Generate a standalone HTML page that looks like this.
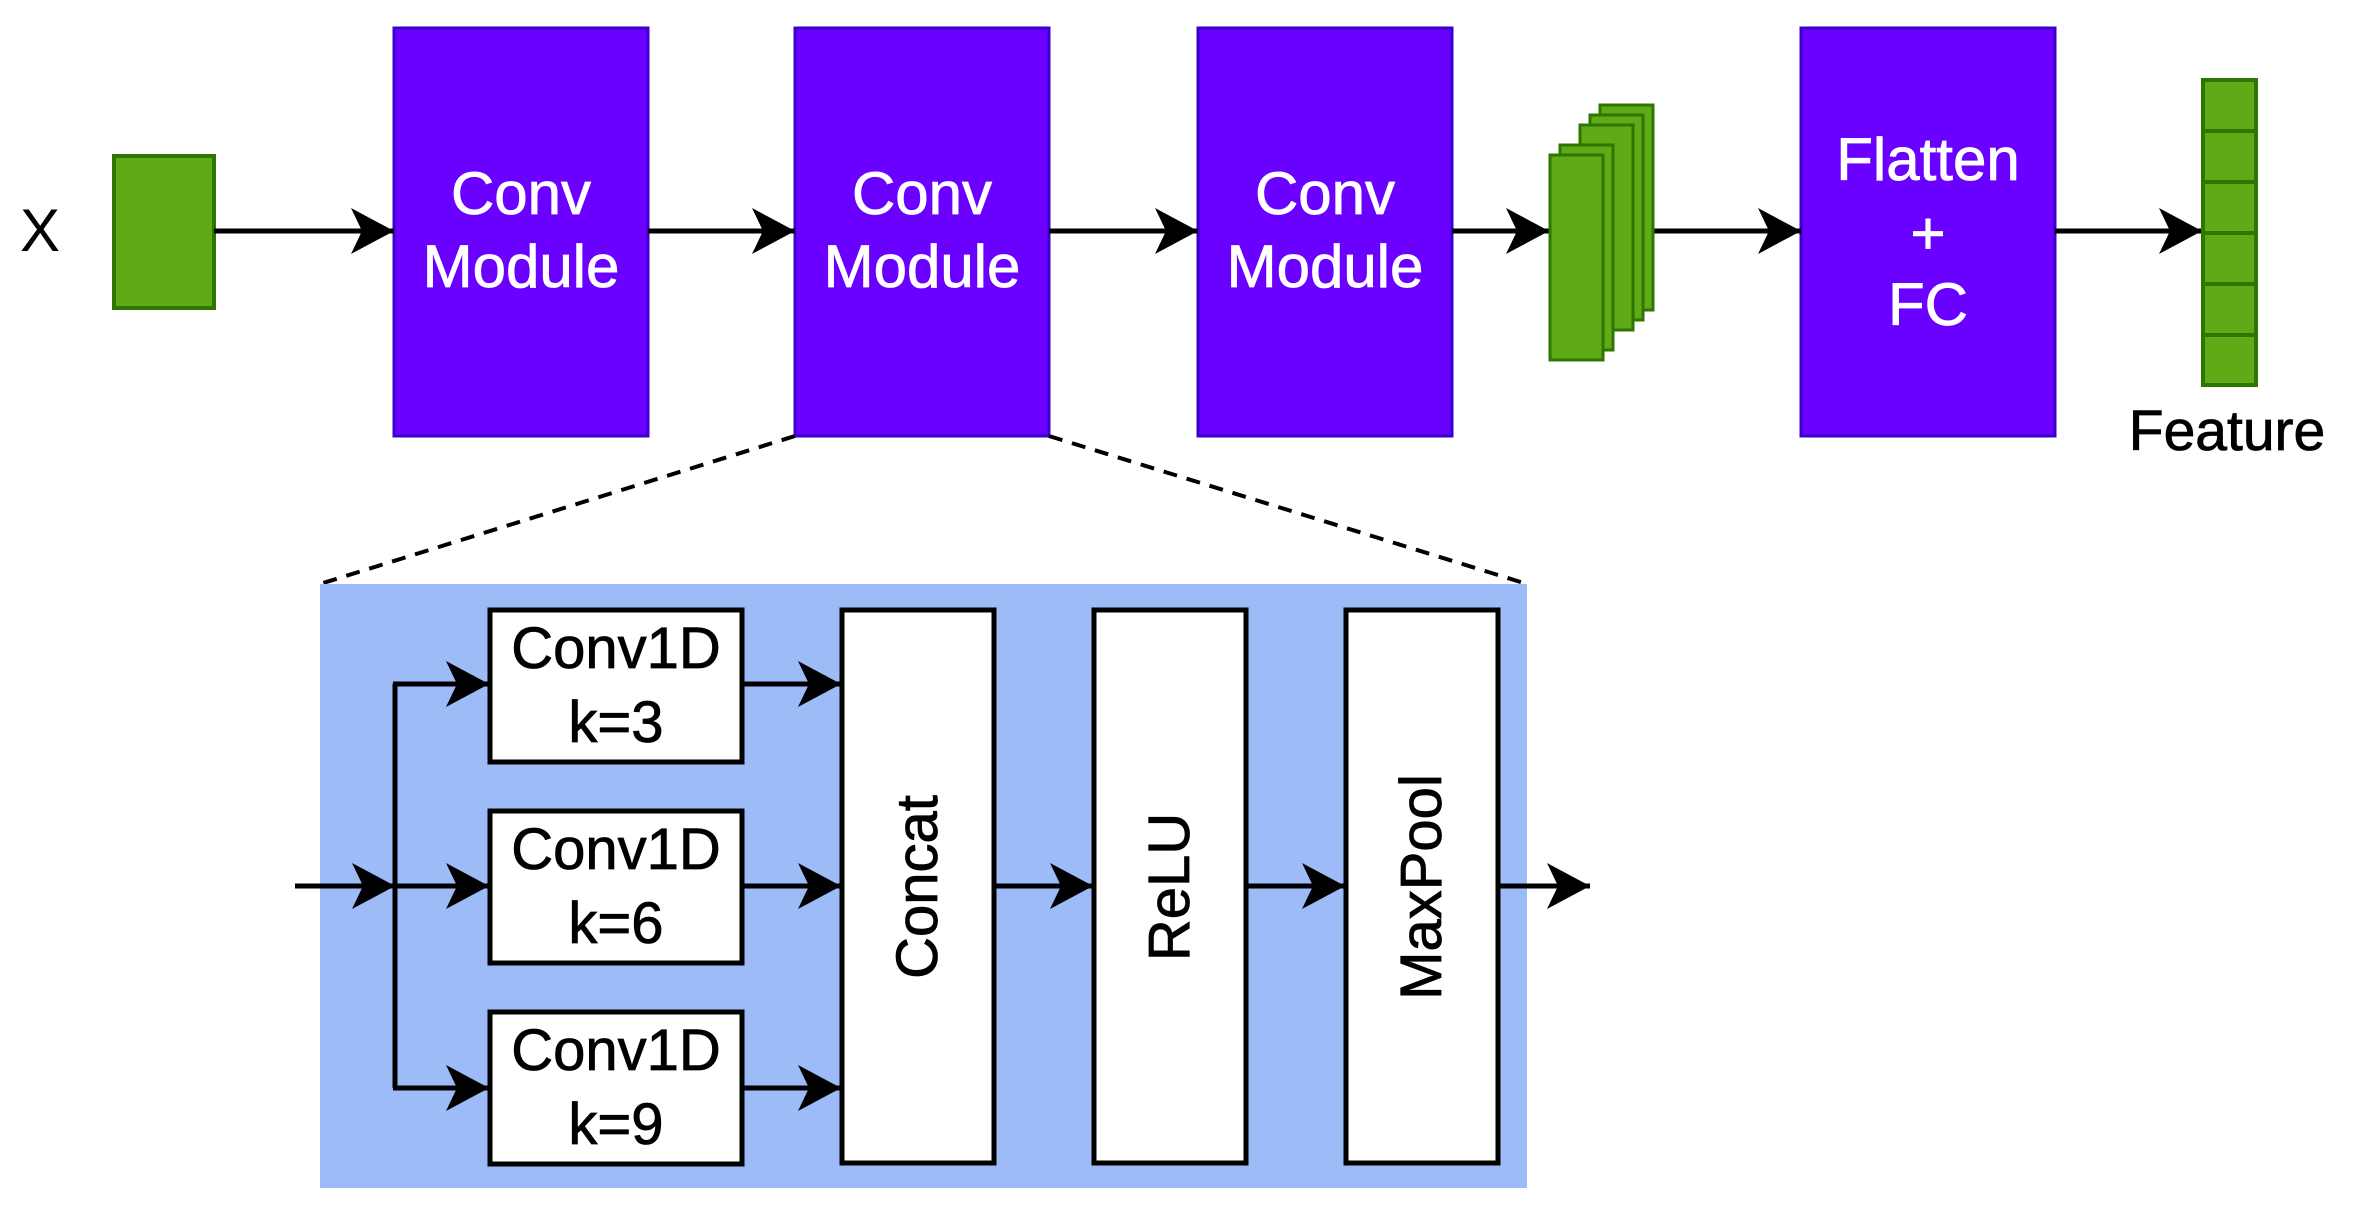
<!DOCTYPE html>
<html><head><meta charset="utf-8"><style>
html,body{margin:0;padding:0;background:#fff;}
svg{display:block;}
text{font-family:"Liberation Sans",Arial,sans-serif;}
</style></head><body>
<svg width="2357" height="1217" viewBox="0 0 2357 1217" xmlns="http://www.w3.org/2000/svg">
<defs>
<marker id="a" markerUnits="userSpaceOnUse" markerWidth="50" markerHeight="50" refX="43" refY="23" orient="auto">
<path d="M0,0 L43,23 L0,46 L11,23 Z" fill="#000"/>
</marker>
</defs>
<text x="40" y="251" font-size="60" text-anchor="middle" fill="#000">X</text>
<rect x="114" y="156" width="100" height="152" fill="#60a917" stroke="#2D7600" stroke-width="4"/>
<g fill="#6a00ff" stroke="#3a00cc" stroke-width="3">
<rect x="394" y="28" width="254" height="408"/>
<rect x="795" y="28" width="254" height="408"/>
<rect x="1198" y="28" width="254" height="408"/>
<rect x="1801" y="28" width="254" height="408"/>
</g>
<g fill="#fff" font-size="60" text-anchor="middle" stroke="#fff" stroke-width="0.8">
<text x="521" y="214">Conv</text><text x="521" y="287">Module</text>
<text x="922" y="214">Conv</text><text x="922" y="287">Module</text>
<text x="1325" y="214">Conv</text><text x="1325" y="287">Module</text>
<text x="1928" y="180">Flatten</text><text x="1928" y="254">+</text><text x="1928" y="325">FC</text>
</g>
<g stroke="#000" stroke-width="5" fill="none" marker-end="url(#a)">
<line x1="214" y1="231" x2="394" y2="231"/>
<line x1="648" y1="231" x2="795" y2="231"/>
<line x1="1049" y1="231" x2="1198" y2="231"/>
<line x1="1452" y1="231" x2="1549" y2="231"/>
<line x1="1653" y1="231" x2="1801" y2="231"/>
<line x1="2055" y1="231" x2="2202" y2="231"/>
</g>
<g fill="#60a917" stroke="#2D7600" stroke-width="3">
<rect x="1600" y="105" width="53" height="205"/>
<rect x="1590" y="115" width="53" height="205"/>
<rect x="1580" y="125" width="53" height="205"/>
<rect x="1560" y="145" width="53" height="205"/>
<rect x="1550" y="155" width="53" height="205"/>
</g>
<g fill="#60a917" stroke="#2D7600" stroke-width="4">
<rect x="2203" y="80" width="53" height="51"/>
<rect x="2203" y="131" width="53" height="51"/>
<rect x="2203" y="182" width="53" height="51"/>
<rect x="2203" y="233" width="53" height="51"/>
<rect x="2203" y="284" width="53" height="51"/>
<rect x="2203" y="335" width="53" height="50"/>
</g>
<text x="2227" y="450" font-size="57" text-anchor="middle" fill="#000" stroke="#000" stroke-width="0.8">Feature</text>
<g stroke="#000" stroke-width="4" stroke-dasharray="14,10">
<line x1="795" y1="436" x2="320" y2="584"/>
<line x1="1049" y1="436" x2="1527" y2="584"/>
</g>
<rect x="320" y="584" width="1207" height="604" fill="#9dbbf7"/>
<g fill="#fff" stroke="#000" stroke-width="5">
<rect x="490" y="610" width="252" height="152"/>
<rect x="490" y="811" width="252" height="152"/>
<rect x="490" y="1012" width="252" height="152"/>
<rect x="842" y="610" width="152" height="553"/>
<rect x="1094" y="610" width="152" height="553"/>
<rect x="1346" y="610" width="152" height="553"/>
</g>
<g fill="#000" font-size="58" text-anchor="middle" stroke="#000" stroke-width="0.8">
<text x="616" y="668">Conv1D</text><text x="616" y="742">k=3</text>
<text x="616" y="869">Conv1D</text><text x="616" y="943">k=6</text>
<text x="616" y="1070">Conv1D</text><text x="616" y="1144">k=9</text>
<text transform="translate(937,887) rotate(-90)">Concat</text>
<text transform="translate(1189,887) rotate(-90)">ReLU</text>
<text transform="translate(1441,887) rotate(-90)">MaxPool</text>
</g>
<g stroke="#000" stroke-width="5" fill="none">
<line x1="395" y1="684" x2="395" y2="1088"/>
</g>
<g stroke="#000" stroke-width="5" fill="none" marker-end="url(#a)">
<line x1="295" y1="886" x2="395" y2="886"/>
<line x1="393" y1="684" x2="489" y2="684"/>
<line x1="395" y1="886" x2="489" y2="886"/>
<line x1="393" y1="1088" x2="489" y2="1088"/>
<line x1="742" y1="684" x2="841" y2="684"/>
<line x1="742" y1="886" x2="841" y2="886"/>
<line x1="742" y1="1088" x2="841" y2="1088"/>
<line x1="994" y1="886" x2="1093" y2="886"/>
<line x1="1246" y1="886" x2="1345" y2="886"/>
<line x1="1498" y1="886" x2="1590" y2="886"/>
</g>
</svg>
</body></html>
